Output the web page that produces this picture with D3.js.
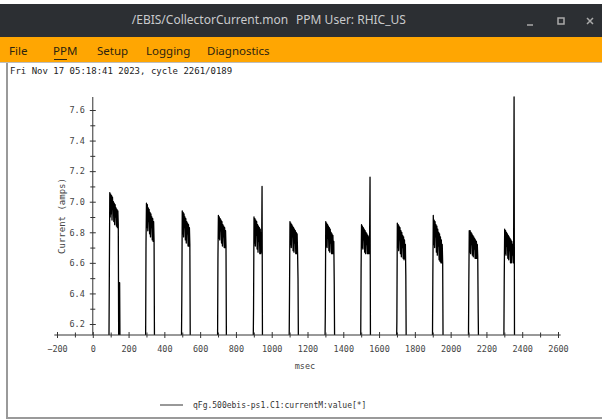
<!DOCTYPE html>
<html>
<head>
<meta charset="utf-8">
<script src="https://cdn.jsdelivr.net/npm/d3@7"></script>
<style>
  html, body { margin: 0; padding: 0; background: #fff; }
  svg { display: block; }
</style>
</head>
<body>
<svg id="chart" width="602" height="420"></svg>
<script>
// ---------------- data ----------------
const windowTitle = "/EBIS/CollectorCurrent.mon";
const ppmUser = "PPM User: RHIC_US";
const menuItems = ["File", "PPM", "Setup", "Logging", "Diagnostics"];
const timestampText = "Fri Nov 17 05:18:41 2023, cycle 2261/0189";
const xLabel = "msec";
const yLabel = "Current (amps)";
const legendLabel = "qFg.500ebis-ps1.C1:currentM:value[*]";

const xTickValues = [-200, 0, 200, 400, 600, 800, 1000, 1200, 1400, 1600, 1800, 2000, 2200, 2400, 2600];
const xMinorTicks = [-100, 100, 300, 500, 700, 900, 1100, 1300, 1500, 1700, 1900, 2100, 2300, 2500];
const yTickValues = [6.2, 6.4, 6.6, 6.8, 7.0, 7.2, 7.4, 7.6];
const yMinorTicks = [6.3, 6.5, 6.7, 6.9, 7.1, 7.3, 7.5];

// start time (msec) of each current pulse, sample period 2.5 msec
const pulseStarts = [90, 295, 495, 697, 896, 1097, 1297, 1497, 1697, 1898, 2099, 2297];
const samplePeriod = 2.5;
const baselineValue = 6.0;

const pulse1  = [6.0, 6.52, 7.06, 6.90, 7.05, 6.92, 7.04, 6.88, 7.03, 6.95, 7.00, 6.87, 6.99, 6.85, 6.98, 6.90, 6.96, 6.84, 6.95, 6.83, 6.94, 6.85, 6.0, 6.0, 6.47, 6.0];
const pulse2  = [6.0, 6.73, 6.99, 6.83, 6.98, 6.81, 6.96, 6.87, 6.95, 6.79, 6.93, 6.77, 6.92, 6.83, 6.90, 6.75, 6.89, 6.74, 6.87, 6.75, 6.0];
const pulse3  = [6.0, 6.36, 6.94, 6.79, 6.93, 6.77, 6.92, 6.83, 6.90, 6.75, 6.89, 6.73, 6.87, 6.79, 6.86, 6.71, 6.85, 6.71, 6.83, 6.72, 6.0];
const pulse4  = [6.0, 6.63, 6.91, 6.76, 6.90, 6.75, 6.89, 6.81, 6.88, 6.73, 6.87, 6.71, 6.85, 6.77, 6.84, 6.70, 6.83, 6.70, 6.81, 6.71, 6.0];
const pulse5  = [6.0, 6.30, 6.90, 6.73, 6.89, 6.71, 6.88, 6.78, 6.87, 6.69, 6.85, 6.67, 6.84, 6.74, 6.83, 6.66, 6.82, 6.66, 6.80, 6.67, 7.10, 6.0];
const pulse6  = [6.0, 6.40, 6.87, 6.72, 6.86, 6.70, 6.85, 6.77, 6.84, 6.68, 6.83, 6.67, 6.82, 6.73, 6.81, 6.66, 6.80, 6.66, 6.79, 6.67, 6.50, 6.0];
const pulse7  = [6.0, 6.26, 6.87, 6.71, 6.86, 6.70, 6.85, 6.76, 6.84, 6.68, 6.83, 6.67, 6.82, 6.73, 6.80, 6.66, 6.79, 6.66, 6.78, 6.66, 6.74, 6.46, 6.0];
const pulse8  = [6.0, 6.56, 6.85, 6.70, 6.84, 6.69, 6.83, 6.75, 6.82, 6.67, 6.81, 6.66, 6.80, 6.72, 6.79, 6.66, 6.78, 6.66, 6.77, 6.66, 6.75, 7.16, 6.0];
const pulse9  = [6.0, 6.22, 6.86, 6.70, 6.85, 6.68, 6.84, 6.75, 6.83, 6.66, 6.81, 6.64, 6.80, 6.70, 6.78, 6.63, 6.77, 6.62, 6.75, 6.63, 6.72, 6.52, 6.0];
const pulse10 = [6.0, 6.51, 6.91, 6.72, 6.88, 6.70, 6.87, 6.77, 6.85, 6.67, 6.84, 6.65, 6.82, 6.71, 6.80, 6.62, 6.79, 6.61, 6.77, 6.60, 6.75, 6.60, 6.72, 6.60, 6.0];
const pulse11 = [6.0, 6.45, 6.81, 6.67, 6.81, 6.66, 6.80, 6.72, 6.79, 6.65, 6.78, 6.64, 6.77, 6.69, 6.76, 6.63, 6.75, 6.63, 6.74, 6.63, 6.72, 6.64, 6.27, 6.0];
const pulse12 = [6.0, 6.49, 6.82, 6.66, 6.81, 6.65, 6.80, 6.71, 6.79, 6.63, 6.78, 6.62, 6.77, 6.68, 6.76, 6.60, 6.75, 6.60, 6.74, 6.65, 6.72, 6.60, 6.70, 7.685, 6.0];
const pulseValues = [pulse1, pulse2, pulse3, pulse4, pulse5, pulse6, pulse7, pulse8, pulse9, pulse10, pulse11, pulse12];

// ---------------- drawing ----------------
const svg = d3.select("#chart");
const W = 602, H = 420;
const uiFont = "Noto Sans, DejaVu Sans, sans-serif";

// window chrome
svg.append("rect").attr("x", 0).attr("y", 0).attr("width", W).attr("height", H).attr("fill", "#fff");
svg.append("rect").attr("x", 0).attr("y", 4).attr("width", W).attr("height", 33).attr("fill", "#2c2f33");
svg.append("text").attr("x", 210).attr("y", 24).attr("text-anchor", "middle")
  .attr("font-family", uiFont).attr("font-size", 12).attr("fill", "#c9cacc")
  .text(windowTitle);
svg.append("text").attr("x", 351).attr("y", 24).attr("text-anchor", "middle")
  .attr("font-family", uiFont).attr("font-size", 12).attr("fill", "#c9cacc")
  .text(ppmUser);
// window buttons
svg.append("line").attr("x1", 527).attr("x2", 533).attr("y1", 25).attr("y2", 25).attr("stroke", "#aaa").attr("stroke-width", 1.5);
svg.append("rect").attr("x", 558).attr("y", 18).attr("width", 6).attr("height", 6).attr("fill", "none").attr("stroke", "#aaa").attr("stroke-width", 1.5);
svg.append("path").attr("d", "M587,18 L593,24 M593,18 L587,24").attr("stroke", "#aaa").attr("stroke-width", 1.5);

svg.append("rect").attr("x", 0).attr("y", 37).attr("width", W).attr("height", 25).attr("fill", "#ffa602");
svg.append("line").attr("x1", 0).attr("x2", W).attr("y1", 62.5).attr("y2", 62.5).attr("stroke", "#bdbdbd");
const menuX = [9, 53, 97, 146, 207];
menuItems.forEach((m, i) => {
  svg.append("text").attr("x", menuX[i]).attr("y", 55)
    .attr("font-family", uiFont).attr("font-size", 11.5).attr("fill", "#2b2410")
    .text(m);
});
svg.append("line").attr("x1", 54).attr("x2", 67).attr("y1", 59.5).attr("y2", 59.5).attr("stroke", "#2b2410");

// frame borders
svg.append("rect").attr("x", 6).attr("y", 63).attr("width", 2).attr("height", 356).attr("fill", "#9a9a9a");
svg.append("rect").attr("x", 6).attr("y", 417).attr("width", W - 6).attr("height", 2).attr("fill", "#9a9a9a");

// timestamp
svg.append("text").attr("x", 10).attr("y", 74)
  .attr("font-family", "DejaVu Sans Mono, monospace").attr("font-size", 9).attr("fill", "#222")
  .text(timestampText);

// scales
const x = d3.scaleLinear().domain([-200, 2600]).range([57, 558]);
const y = d3.scaleLinear().domain([6.2, 7.6]).range([324, 110]);
const yBottom = 6.128, yTop = 7.685;
const axisY = y(yBottom);

// data series
const points = [];
points.push([0, baselineValue]);
pulseValues.forEach((vals, p) => {
  vals.forEach((v, i) => points.push([pulseStarts[p] + i * samplePeriod, v]));
});
points.push([2600, baselineValue]);

const defs = svg.append("defs");
defs.append("clipPath").attr("id", "plotclip").append("rect")
  .attr("x", x(-220)).attr("y", y(yTop) - 2).attr("width", x(2620) - x(-220)).attr("height", axisY - y(yTop) + 2);

const line = d3.line().x(d => x(d[0])).y(d => y(d[1]));
svg.append("path").datum(points)
  .attr("clip-path", "url(#plotclip)")
  .attr("d", line).attr("fill", "none").attr("stroke", "#000").attr("stroke-width", 1.3)
  .attr("stroke-linejoin", "round");

// axes
const tickFont = "DejaVu Sans Mono, monospace";
const xAxisG = svg.append("g").attr("transform", `translate(0,${axisY})`)
  .call(d3.axisBottom(x).tickValues(xTickValues).tickFormat(d3.format("d")).tickSizeOuter(0).tickSize(3).tickPadding(8));
xAxisG.select(".domain").remove();
xAxisG.selectAll(".tick line").attr("y1", -3).attr("y2", 3).attr("stroke", "#333");
xAxisG.selectAll(".tick text").attr("font-family", tickFont).attr("font-size", 8.5).attr("fill", "#444");
const xMinorG = svg.append("g").attr("transform", `translate(0,${axisY})`)
  .call(d3.axisBottom(x).tickValues(xMinorTicks).tickFormat("").tickSizeOuter(0).tickSize(3));
xMinorG.select(".domain").remove();
xMinorG.selectAll(".tick line").attr("y1", -2.5).attr("y2", 2.5).attr("stroke", "#333");
svg.append("line").attr("x1", x(-215)).attr("x2", x(2615)).attr("y1", axisY).attr("y2", axisY).attr("stroke", "#333");

const yAxisG = svg.append("g").attr("transform", `translate(${x(0)},0)`)
  .call(d3.axisLeft(y).tickValues(yTickValues).tickFormat(d3.format(".1f")).tickSizeOuter(0).tickSize(3).tickPadding(5));
yAxisG.select(".domain").remove();
yAxisG.selectAll(".tick line").attr("x1", -3).attr("x2", 3).attr("stroke", "#333");
yAxisG.selectAll(".tick text").attr("font-family", tickFont).attr("font-size", 8.5).attr("fill", "#444");
const yMinorG = svg.append("g").attr("transform", `translate(${x(0)},0)`)
  .call(d3.axisLeft(y).tickValues(yMinorTicks).tickFormat("").tickSizeOuter(0).tickSize(3));
yMinorG.select(".domain").remove();
yMinorG.selectAll(".tick line").attr("x1", -2.5).attr("x2", 2.5).attr("stroke", "#333");
svg.append("line").attr("x1", x(0)).attr("x2", x(0)).attr("y1", axisY).attr("y2", y(yTop)).attr("stroke", "#333");

// axis titles
svg.append("text").attr("x", 305).attr("y", 369).attr("text-anchor", "middle")
  .attr("font-family", tickFont).attr("font-size", 8.5).attr("fill", "#444").text(xLabel);
svg.append("text").attr("transform", `translate(65,216) rotate(-90)`).attr("text-anchor", "middle")
  .attr("font-family", tickFont).attr("font-size", 9).attr("fill", "#444").text(yLabel);

// legend
svg.append("line").attr("x1", 160).attr("x2", 183).attr("y1", 405).attr("y2", 405).attr("stroke", "#333");
svg.append("text").attr("x", 193).attr("y", 408)
  .attr("font-family", tickFont).attr("font-size", 8).attr("fill", "#333").text(legendLabel);
</script>
</body>
</html>
